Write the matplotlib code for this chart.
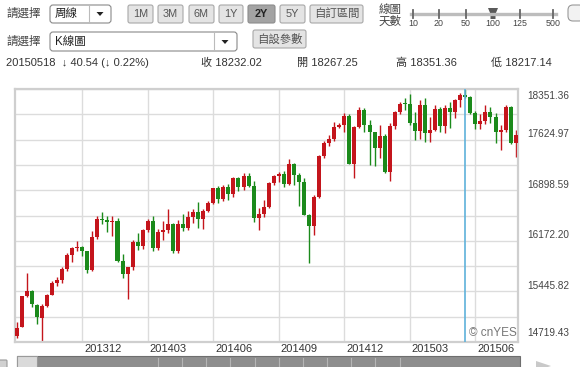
import matplotlib
matplotlib.use('Agg')
import numpy as np
import matplotlib.pyplot as plt
from matplotlib.patches import FancyBboxPatch, Rectangle, Polygon
from matplotlib.transforms import IdentityTransform

plt.rcParams['font.family'] = ['Liberation Sans', 'Noto Sans CJK TC', 'DejaVu Sans']

W, H = 580, 367

# weekly candles, 2013-09-06 .. 2015-07-31
opens = [14810, 14930, 15380, 15450, 15250, 15070, 15237, 15400, 15570, 15615,
         15761, 15962, 16064, 16086, 16020, 15760, 16221, 16479, 16469, 16437,
         16459, 15879, 15699, 15794, 16154, 16103, 16322, 16453, 16065, 16302,
         16323, 16413, 16027, 16409, 16361, 16513, 16583, 16491, 16606, 16717,
         16924, 16776, 16948, 16851, 17068, 16944, 17100, 16961, 16493, 16553,
         16663, 17001, 17098, 17138, 16988, 17280, 17113, 17010, 16544, 16380,
         16805, 17391, 17573, 17634, 17810, 17828, 17958, 17281, 17805, 18053,
         17833, 17737, 17511, 17673, 17165, 17825, 18019, 18141, 18133, 17857,
         17750, 18128, 17713, 17763, 18058, 17826, 18080, 18025, 18191, 18267.25,
         18232, 18011, 17849, 17899, 18016, 17947, 17730, 17760, 18086, 17569]
highs = [15000, 15385, 15709, 15470, 15260, 15260, 15410, 15598, 15650, 15795,
         15990, 16090, 16174, 16100, 16030, 16318, 16529, 16588, 16530, 16530,
         16500, 15980, 15800, 16180, 16290, 16340, 16480, 16530, 16340, 16450,
         16631, 16430, 16470, 16560, 16600, 16632, 16735, 16630, 16740, 16930,
         16960, 16980, 16990, 17090, 17090, 17140, 17140, 17035, 16640, 16760,
         17010, 17110, 17160, 17170, 17350, 17290, 17150, 17078, 16560, 16830,
         17400, 17600, 17690, 17880, 17860, 18000, 17990, 17820, 18090, 18080,
         17906, 17740, 17830, 17700, 17860, 18040, 18160, 18217, 18280, 18016,
         18193, 18217, 17953, 18121, 18090, 18121, 18169, 18210, 18290, 18351.36,
         18250, 18030, 17990, 18120, 18100, 18002, 17834, 18125, 18110, 17760]
lows = [14777, 14928, 15370, 15226, 14980, 14719.43, 15220, 15390, 15530, 15560,
        15740, 15870, 16030, 15950, 15703, 15740, 16200, 16410, 16300, 16245,
        15870, 15632, 15340, 15760, 16040, 16060, 16300, 16020, 16040, 16180,
        16280, 15990, 16000, 16320, 16330, 16423, 16351, 16337, 16590, 16700,
        16720, 16740, 16760, 16806, 16890, 16900, 16950, 16446, 16333, 16518,
        16650, 16980, 17010, 16940, 16970, 16970, 16676, 16540, 15855, 16255,
        16780, 17360, 17540, 17600, 17786, 17738, 17270, 17068, 17790, 17738,
        17260, 17246, 17355, 17140, 17037, 17770, 17990, 18050, 17840, 17619,
        17640, 17585, 17585, 17750, 17738, 17714, 17787, 17930, 18100, 18217.14,
        17990, 17780, 17780, 17850, 17870, 17571, 17475, 17740, 17560, 17379]
closes = [14922, 15376, 15451, 15258, 15072, 15237, 15399, 15570, 15615, 15761,
          15962, 16064, 16086, 16020, 15755, 16221, 16479, 16469, 16437, 16459,
          15879, 15699, 15794, 16154, 16103, 16322, 16453, 16065, 16302, 16323,
          16413, 16027, 16409, 16361, 16513, 16583, 16491, 16606, 16717, 16924,
          16776, 16948, 16851, 17068, 16944, 17100, 16961, 16493, 16553, 16663,
          17001, 17098, 17138, 16988, 17280, 17113, 17010, 16544, 16380, 16805,
          17391, 17573, 17634, 17810, 17828, 17958, 17281, 17805, 18053, 17833,
          17737, 17511, 17673, 17165, 17825, 18019, 18141, 18133, 17857, 17750,
          18128, 17713, 17763, 18058, 17826, 18080, 18025, 18191, 18272, 18232.02,
          18011, 17849, 17899, 18016, 17947, 17730, 17760, 18086, 17569, 17690]

tick_idx = [13, 26, 39, 52, 65, 78, 91]
tick_labels = ['201312', '201403', '201406', '201409', '201412', '201503', '201506']
y_labels = [14719.43, 15445.82, 16172.20, 16898.59, 17624.97, 18351.36]
cursor_idx = 89

RED = '#c4151c'
GREEN = '#1b8a1b'

fig = plt.figure(figsize=(W / 100, H / 100), dpi=100)
ax = fig.add_axes([15 / W, 1 - 342 / H, 503 / W, 253 / H])

x = np.arange(len(closes))
o = np.array(opens, dtype=float)
c = np.array(closes, dtype=float)
up = c >= o
cols = np.where(up, RED, GREEN)
body_lo = np.minimum(o, c)
body_h = np.maximum(np.abs(c - o), 12)

ymin, ymax = y_labels[0], y_labels[-1]
for g in np.linspace(ymin, ymax, 11):
    ax.axhline(g, color='#dcdcdc', lw=1, zorder=0)
for t in tick_idx:
    ax.axvline(t, color='#dcdcdc', lw=1, zorder=0)

ax.vlines(x, lows, highs, colors=cols, lw=1, zorder=2)
ax.bar(x, body_h, bottom=body_lo, width=0.8, color=cols, lw=0, zorder=3)
ax.axvline(cursor_idx, color='#5fb2da', lw=1.2, zorder=4)

ax.set_xlim(-0.34, 99.46)
ax.set_ylim(ymin, ymax)
ax.set_xticks([])
ax.set_yticks([])
for s in ax.spines.values():
    s.set_color('#cfcfcf')
    s.set_linewidth(1.6)

for i, v in enumerate(y_labels):
    dy = 4
    if i == 0:
        dy = 6.5
    if i == len(y_labels) - 1:
        dy = -4.8
    ax.annotate(f'{v:.2f}', xy=(1, v), xycoords=('axes fraction', 'data'),
                xytext=(6.5, dy), textcoords='offset points', va='center', ha='left',
                fontsize=7.2, color='#444444', annotation_clip=False)
for t, lab in zip(tick_idx, tick_labels):
    ax.annotate(lab, xy=(t, 0), xycoords=('data', 'axes fraction'),
                xytext=(1.3, -5.4), textcoords='offset points', va='center', ha='left',
                fontsize=8, color='#333333', annotation_clip=False)
ax.text(0.997, 0.035, '© cnYES', transform=ax.transAxes, ha='right', va='center',
        fontsize=8.5, color='#777777')


# ---- page controls around the chart (pixel coords, y from top) ----
def box(x0, y0, x1, y1, fc, ec, r=3, lw=0.8):
    fig.patches.append(FancyBboxPatch((x0, H - y1), x1 - x0, y1 - y0,
                                      boxstyle=f'round,pad=0,rounding_size={r}',
                                      transform=IdentityTransform(), fc=fc, ec=ec, lw=lw))


def txt(px, py, s, **kw):
    fig.text(px / W, 1 - py / H, s, va='center', **kw)


def tri(pts, fc):
    fig.patches.append(Polygon([(a, H - b) for a, b in pts], closed=True,
                               transform=IdentityTransform(), fc=fc, ec='none'))


# row 1
txt(6, 14, '請選擇', fontsize=8.3, color='#444444')
box(50, 5, 111, 23, 'white', '#8a8a8a')
fig.lines.append(plt.Line2D([89, 89], [H - 6, H - 22], transform=IdentityTransform(), color='#bbbbbb', lw=0.8))
txt(55, 14, '周線', fontsize=8.3, color='#222222')
tri([(96.5, 12), (103.5, 12), (100, 16)], '#222222')

buttons = [('1M', 128, 153), ('3M', 158, 183), ('6M', 189, 214), ('1Y', 219, 243),
           ('2Y', 248, 275), ('5Y', 280, 305), ('自訂區間', 310, 363)]
for lab, b0, b1 in buttons:
    sel = lab == '2Y'
    box(b0, 5, b1, 23, '#a3a3a3' if sel else '#e4e4e4', '#8c8c8c' if sel else '#a8a8a8', r=2)
    txt((b0 + b1) / 2, 14, lab, ha='center', fontsize=7.8 if len(lab) < 3 else 8.2,
        color='#222222' if sel else '#555555', fontweight='bold' if sel else 'normal')

txt(379, 10, '線圖', fontsize=8.3, color='#444444')
txt(379, 22, '天數', fontsize=8.3, color='#444444')
fig.lines.append(plt.Line2D([411, 556], [H - 14, H - 14], transform=IdentityTransform(), color='#bdbdbd', lw=2.4))
for sx, sl in zip([413, 439, 466, 493, 520, 553], ['10', '20', '50', '100', '125', '500']):
    if sl != '100':
        fig.lines.append(plt.Line2D([sx, sx], [H - 10, H - 18], transform=IdentityTransform(), color='#666666', lw=1.3))
    txt(sx, 23.5, sl, ha='center', fontsize=6.4, color='#444444')
tri([(488, 8), (498, 8), (495.5, 14), (495.5, 19), (490.5, 19), (490.5, 14)], '#5a5a5a')
box(568, 5, 584, 21, '#f2f2f2', '#999999', r=5)

# row 2
txt(6, 42, '請選擇', fontsize=8.3, color='#444444')
box(50, 32, 237, 51, 'white', '#8a8a8a')
fig.lines.append(plt.Line2D([214, 214], [H - 33, H - 50], transform=IdentityTransform(), color='#bbbbbb', lw=0.8))
txt(55, 42, 'K線圖', fontsize=8.3, color='#222222')
tri([(221.5, 40), (228.5, 40), (225, 44)], '#222222')
box(253, 30, 306, 48, '#e4e4e4', '#a8a8a8', r=2)
txt(279.5, 39, '自設參數', ha='center', fontsize=8.2, color='#555555')

# row 3
txt(6, 63, '20150518  ↓ 40.54 (↓ 0.22%)', fontsize=8, color='#333333')
txt(201, 63, '收 18232.02', fontsize=8, color='#333333')
txt(297, 63, '開 18267.25', fontsize=8, color='#333333')
txt(396, 63, '高 18351.36', fontsize=8, color='#333333')
txt(491, 63, '低 18217.14', fontsize=8, color='#333333')

# scroll bar
fig.patches.append(Rectangle((17, H - 374), 503, 18, transform=IdentityTransform(), fc='#8e8e8e', ec='#6e6e6e', lw=0.8))
fig.patches.append(Rectangle((17, H - 374), 20, 18, transform=IdentityTransform(), fc='#dadada', ec='#9a9a9a', lw=0.8))
for dx in [158, 182, 206, 230, 255, 279, 303, 327, 351, 375, 400]:
    fig.lines.append(plt.Line2D([dx, dx], [H - 358, H - 367], transform=IdentityTransform(), color='#b5b5b5', lw=0.8))
box(-4, 360, 7, 372, '#d0d0d0', '#9a9a9a', r=1)
tri([(536, 361), (551, 366), (536, 371)], '#c9c9c9')

fig.savefig('out.png', dpi=100)
